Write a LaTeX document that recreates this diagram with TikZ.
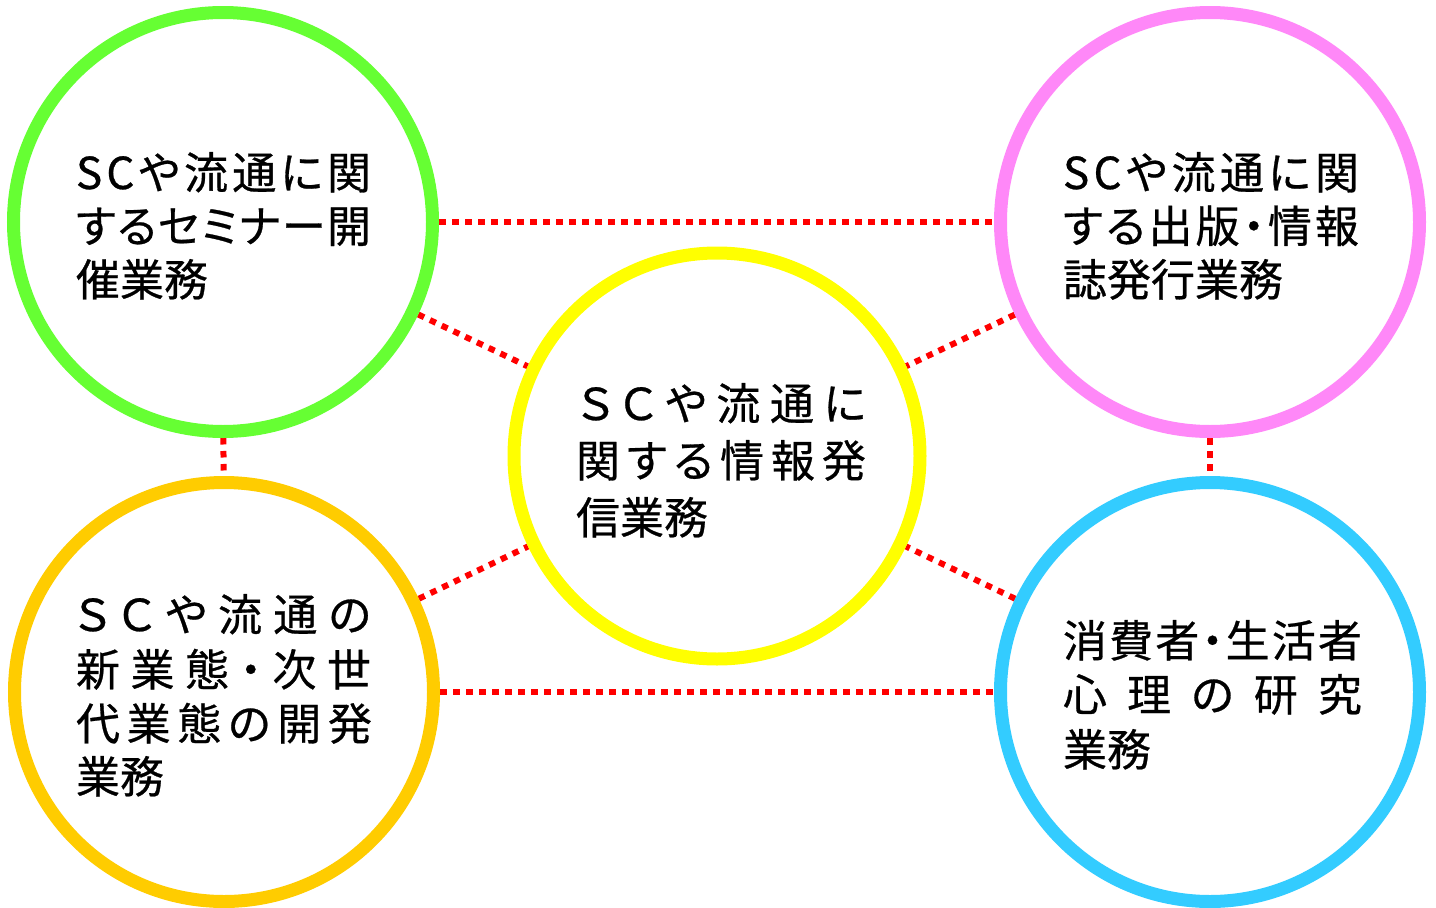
\documentclass[tikz,border=0pt]{standalone}
\usepackage{fontspec}
\setmainfont{Noto Sans CJK JP}[RawFeature=+palt, FakeBold=0.6]
\usetikzlibrary{backgrounds}
\definecolor{cgreen}{HTML}{66FF33}
\definecolor{cyellow}{HTML}{FFFF00}
\definecolor{cpink}{HTML}{FF88F8}
\definecolor{corange}{HTML}{FFCC00}
\definecolor{cblue}{HTML}{33CCFF}
\definecolor{clink}{HTML}{FF0000}
\tikzset{
  bub/.style={circle, draw=#1, fill=white, line width=13pt, minimum size=419pt, inner sep=0pt},
  link/.style={draw=clink, line width=6pt, dash pattern=on 6.5pt off 6.5pt},
  txt/.style={anchor=base west, inner sep=0pt, outer sep=0pt, font=\fontsize{44}{54}\selectfont},
}
\begin{document}
\begin{tikzpicture}[x=1pt, y=-1pt]
\useasboundingbox (0,0) rectangle (1436,908);

\node[bub=cgreen] (tl) at (223,222) {};
\node[bub=cpink] (tr) at (1210,222) {};
\node[bub=corange] (bl) at (224,692) {};
\node[bub=cblue] (br) at (1210,692) {};
\node[bub=cyellow, minimum size=406pt] (c) at (717,456) {};

\begin{scope}[on background layer]
\fill[white] (0,0) rectangle (1436,908);
\draw[link] (tl) -- (tr);
\draw[link] (bl) -- (br);
\draw[link] (tl) -- (bl);
\draw[link] (tr) -- (br);
\draw[link] (tl) -- (c);
\draw[link] (tr) -- (c);
\draw[link] (bl) -- (c);
\draw[link] (br) -- (c);
\end{scope}

% top left
\node[txt] (tl1) at (76,189) {\makebox[295pt][s]{S\hss C\hss や\hss 流\hss 通\hss に\hss 関}};
\node[txt] (tl2) at (76,242.5) {\makebox[295pt][s]{す\hss る\hss セ\hss ミ\hss ナ\hss ー\hss 開}};
\node[txt] (tl3) at (76,296) {催業務};

% centre
\node[txt] (c1) at (576,420) {\makebox[290pt][s]{\hspace{3pt}Ｓ\hss Ｃ\hss や\hss 流\hss 通\hss に}};
\node[txt] (c2) at (576,477) {\makebox[290pt][s]{関\hss す\hss る\hss 情\hss 報\hss 発}};
\node[txt] (c3) at (576,534) {信業務};

% top right
\node[txt] (tr1) at (1063,189) {\makebox[296pt][s]{S\hss C\hss や\hss 流\hss 通\hss に\hss 関}};
\node[txt] (tr2) at (1063,242.5) {\makebox[296pt][s]{す\hss る\hss 出\hss 版\hss ・\hss 情\hss 報}};
\node[txt] (tr3) at (1063,296) {誌発行業務};

% bottom left
\node[txt] (bl1) at (76,631) {\makebox[295pt][s]{Ｓ\hss Ｃ\hss や\hss 流\hss 通\hss の}};
\node[txt] (bl2) at (76,686) {\makebox[295pt][s]{新\hss 業\hss 態\hss ・\hss 次\hss 世}};
\node[txt] (bl3) at (76,740) {\makebox[296pt][s]{代\hss 業\hss 態\hss の\hss 開\hss 発}};
\node[txt] (bl4) at (76,793) {業務};

% bottom right
\node[txt] (br1) at (1063,657) {\makebox[299pt][s]{消\hss 費\hss 者\hss ・\hss 生\hss 活\hss 者}};
\node[txt] (br2) at (1063,711) {\makebox[299pt][s]{心\hss 理\hss の\hss 研\hss 究}};
\node[txt] (br3) at (1063,766) {業務};
\end{tikzpicture}
\end{document}
